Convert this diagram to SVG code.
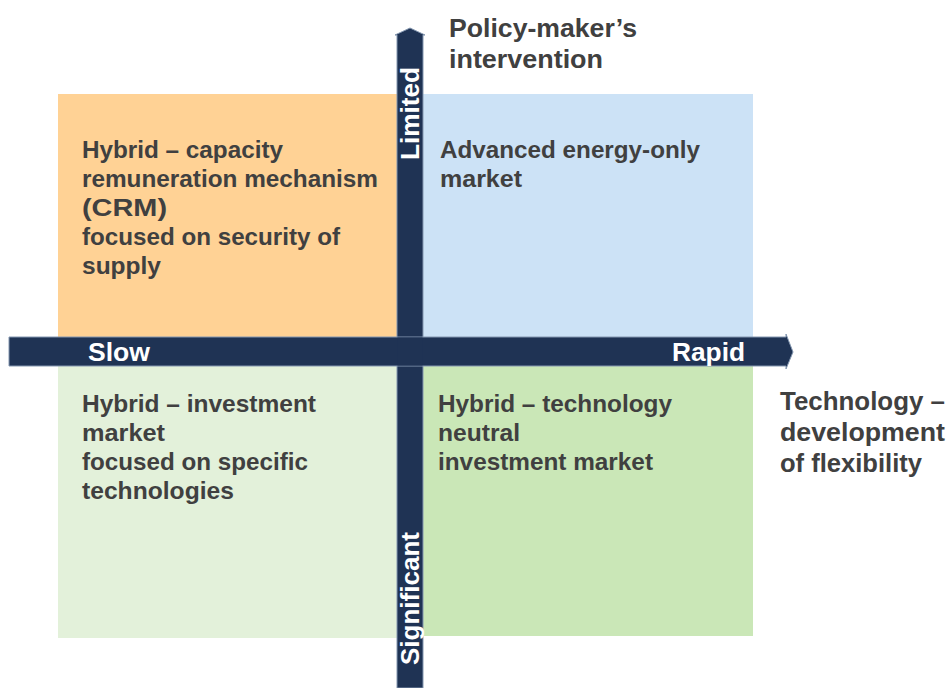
<svg xmlns="http://www.w3.org/2000/svg" width="950" height="688" viewBox="0 0 950 688">
<style>
.q{font-family:"Liberation Sans",Arial,sans-serif;font-weight:bold;font-size:24px;fill:#404040}
.t{font-family:"Liberation Sans",Arial,sans-serif;font-weight:bold;font-size:26px;fill:#404040}
.a{font-family:"Liberation Sans",Arial,sans-serif;font-weight:bold;font-size:26px;fill:#ffffff}
.bar{fill:#1F3354;stroke:#8497B0;stroke-width:1}
</style>
<rect width="950" height="688" fill="#ffffff"/>
<g id="q-top-left">
<rect x="58" y="94" width="339" height="243" fill="#FFD295"/>
<text class="q" x="82" y="158" textLength="201" lengthAdjust="spacingAndGlyphs">Hybrid – capacity</text>
<text class="q" x="82" y="187" textLength="296" lengthAdjust="spacingAndGlyphs">remuneration mechanism</text>
<text class="q" x="82" y="216" textLength="85" lengthAdjust="spacingAndGlyphs">(CRM)</text>
<text class="q" x="82" y="245" textLength="258" lengthAdjust="spacingAndGlyphs">focused on security of</text>
<text class="q" x="82" y="274" textLength="79" lengthAdjust="spacingAndGlyphs">supply</text>
</g>
<g id="q-top-right">
<rect x="423" y="94" width="330" height="243" fill="#CCE2F6"/>
<text class="q" x="440" y="158" textLength="260" lengthAdjust="spacingAndGlyphs">Advanced energy-only</text>
<text class="q" x="440" y="187" textLength="82" lengthAdjust="spacingAndGlyphs">market</text>
</g>
<g id="q-bottom-left">
<rect x="58" y="366" width="339" height="272" fill="#E3F1DA"/>
<text class="q" x="82" y="412" textLength="234" lengthAdjust="spacingAndGlyphs">Hybrid – investment</text>
<text class="q" x="82" y="441" textLength="83" lengthAdjust="spacingAndGlyphs">market</text>
<text class="q" x="82" y="470" textLength="226" lengthAdjust="spacingAndGlyphs">focused on specific</text>
<text class="q" x="82" y="499" textLength="152" lengthAdjust="spacingAndGlyphs">technologies</text>
</g>
<g id="q-bottom-right">
<rect x="423" y="366" width="330" height="270" fill="#CAE7B7"/>
<text class="q" x="438" y="412" textLength="234" lengthAdjust="spacingAndGlyphs">Hybrid – technology</text>
<text class="q" x="438" y="441" textLength="82" lengthAdjust="spacingAndGlyphs">neutral</text>
<text class="q" x="438" y="470" textLength="215" lengthAdjust="spacingAndGlyphs">investment market</text>
</g>
<g id="connectors">
<path class="bar" d="M397,688 L397,35 L395,35 L410,28 L425,35 L423,35 L423,688 Z"/>
<path class="bar" d="M9,337 L786,337 L786,334 L793,352 L786,369 L786,366 L9,366 Z"/>
<rect x="397.5" y="337.5" width="25" height="28" fill="#1F3354"/>
</g>
<g id="axis-labels">
<text class="a" x="88" y="361" textLength="62" lengthAdjust="spacingAndGlyphs">Slow</text>
<text class="a" x="672" y="361" textLength="73" lengthAdjust="spacingAndGlyphs">Rapid</text>
<text class="a" transform="translate(419,160) rotate(-90)" textLength="93" lengthAdjust="spacingAndGlyphs">Limited</text>
<text class="a" transform="translate(419,665) rotate(-90)" textLength="133" lengthAdjust="spacingAndGlyphs">Significant</text>
</g>
<g id="axis-titles">
<text class="t" x="449" y="37" textLength="188" lengthAdjust="spacingAndGlyphs">Policy-maker’s</text>
<text class="t" x="449" y="68" textLength="154" lengthAdjust="spacingAndGlyphs">intervention</text>
<text class="t" x="780" y="410" textLength="165" lengthAdjust="spacingAndGlyphs">Technology –</text>
<text class="t" x="780" y="441" textLength="165" lengthAdjust="spacingAndGlyphs">development</text>
<text class="t" x="780" y="472" textLength="142" lengthAdjust="spacingAndGlyphs">of flexibility</text>
</g>
</svg>
